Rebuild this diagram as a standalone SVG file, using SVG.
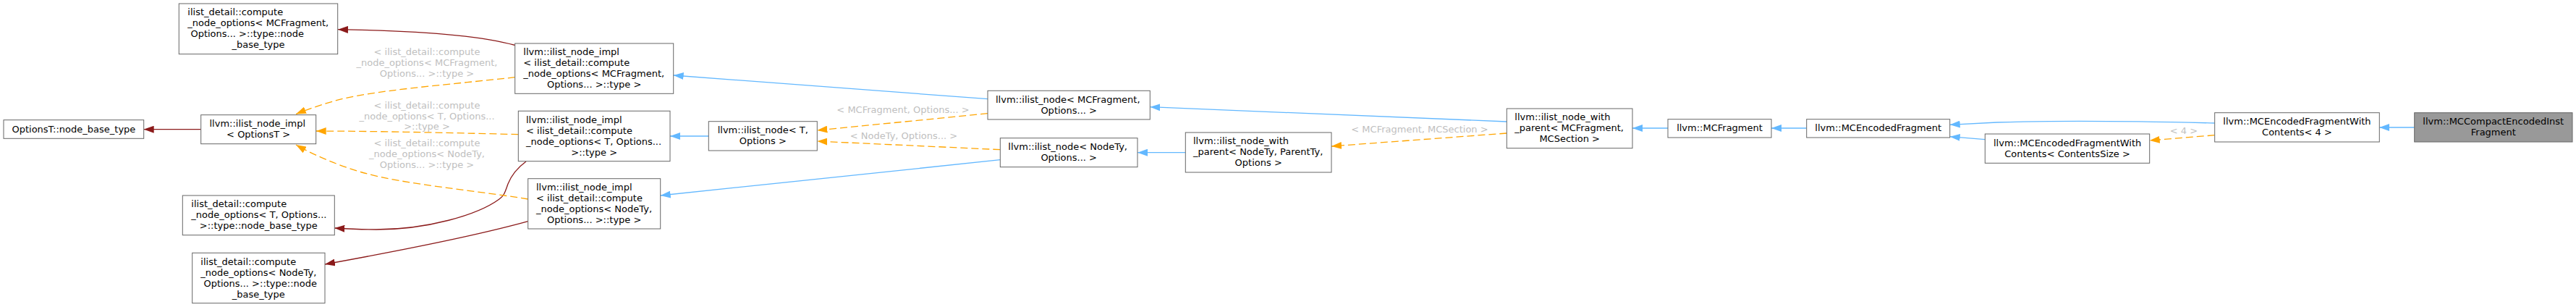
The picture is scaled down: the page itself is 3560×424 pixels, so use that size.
<svg xmlns="http://www.w3.org/2000/svg" width="3560" height="424" viewBox="0 0 3560 424">
<style>
.node rect{fill:#fff;stroke:#666;stroke-width:1}
.node.hl rect{fill:#999}
text{font-family:"DejaVu Sans","Liberation Sans",sans-serif;font-size:13px;fill:#000}
.m{text-anchor:middle}
.lbl{fill:#c0c0c0;text-anchor:middle}
.e{fill:none;stroke-width:1.3}
.blue{stroke:#63b8ff}
.orange{stroke:#ffa500;stroke-dasharray:10,5}
.red{stroke:#8b1a1a}
</style>
<defs>
<marker id="ab" viewBox="0 0 14 10" refX="14" refY="5" markerWidth="14" markerHeight="10" markerUnits="userSpaceOnUse" orient="auto"><path d="M0,0 L14,5 L0,10 z" fill="#63b8ff" stroke="none"/></marker>
<marker id="ao" viewBox="0 0 14 10" refX="14" refY="5" markerWidth="14" markerHeight="10" markerUnits="userSpaceOnUse" orient="auto"><path d="M0,0 L14,5 L0,10 z" fill="#ffa500" stroke="none"/></marker>
<marker id="ar" viewBox="0 0 14 10" refX="14" refY="5" markerWidth="14" markerHeight="10" markerUnits="userSpaceOnUse" orient="auto"><path d="M0,0 L14,5 L0,10 z" fill="#8b1a1a" stroke="none"/></marker>
</defs>
<rect width="3560" height="424" fill="#fff"/>
<g id="edges">
<path class="e red" d="M277.7,178.7 L198.7,178.7" marker-end="url(#ar)"/>
<path class="e red" d="M712,62.5 C660,48 560,42 467,40.7" marker-end="url(#ar)"/>
<path class="e red" d="M727,223 C712,234 706,244 702,254 C698,265 697,270 690,275 C660,297 590,317 520,317 C500,317 480,316 462.3,315" marker-end="url(#ar)"/>
<path class="e red" d="M729.7,305.7 C660,325 560,345 449,365" marker-end="url(#ar)"/>
<path class="e orange" d="M711.7,106.7 C620,117 510,125 460,140 C440,146 425,151 409,157.5" marker-end="url(#ao)"/>
<path class="e orange" d="M716.3,185.7 C650,184 520,181 436.7,181" marker-end="url(#ao)"/>
<path class="e orange" d="M729.7,275 C650,262 560,255 500,238 C460,226 430,212 409,200" marker-end="url(#ao)"/>
<path class="e blue" d="M979.3,188 L926,188" marker-end="url(#ab)"/>
<path class="e blue" d="M1365,136.7 L930.7,104" marker-end="url(#ab)"/>
<path class="e blue" d="M1382.3,220.7 L912.7,270" marker-end="url(#ab)"/>
<path class="e orange" d="M1365,156.7 L1129.3,180" marker-end="url(#ao)"/>
<path class="e orange" d="M1382.3,206.7 L1129.3,195" marker-end="url(#ao)"/>
<path class="e blue" d="M1638.3,210.7 L1572,210.7" marker-end="url(#ab)"/>
<path class="e blue" d="M2082.3,168 L1589.3,147.7" marker-end="url(#ab)"/>
<path class="e orange" d="M2082.3,184 L1840,202" marker-end="url(#ao)"/>
<path class="e blue" d="M2305,177 L2256,177" marker-end="url(#ab)"/>
<path class="e blue" d="M2496.7,177 L2448,177" marker-end="url(#ab)"/>
<path class="e blue" d="M3060.7,170 C2980,168 2850,166 2760,169 C2740,170 2720,171 2694.7,172.3" marker-end="url(#ab)"/>
<path class="e blue" d="M2743.3,192.7 L2694.7,188.7" marker-end="url(#ab)"/>
<path class="e orange" d="M3060.7,186.7 L2970.7,194" marker-end="url(#ao)"/>
<path class="e blue" d="M3336.7,176 L3288.3,176" marker-end="url(#ab)"/>
<text class="lbl" x="590" y="76">&lt; ilist_detail::compute</text>
<text class="lbl" x="590" y="91">_node_options&lt; MCFragment,</text>
<text class="lbl" x="590" y="106">Options... &gt;::type &gt;</text>
<text class="lbl" x="590" y="149.5">&lt; ilist_detail::compute</text>
<text class="lbl" x="590" y="164.5">_node_options&lt; T, Options...</text>
<text class="lbl" x="590" y="179">&gt;::type &gt;</text>
<text class="lbl" x="590" y="201.5">&lt; ilist_detail::compute</text>
<text class="lbl" x="590" y="216.5">_node_options&lt; NodeTy,</text>
<text class="lbl" x="590" y="231.5">Options... &gt;::type &gt;</text>
<text class="lbl" x="1248" y="156">&lt; MCFragment, Options... &gt;</text>
<text class="lbl" x="1249" y="192">&lt; NodeTy, Options... &gt;</text>
<text class="lbl" x="1962" y="183">&lt; MCFragment, MCSection &gt;</text>
<text class="lbl" x="3018" y="185">&lt; 4 &gt;</text>
</g>
<g id="n_optionsT" class="node"><rect x="5" y="165.7" width="193.7" height="25.6"/><text class="m" x="101.9" y="182.5">OptionsT::node_base_type</text></g>
<g id="n_impl_optionsT" class="node"><rect x="277.7" y="158.7" width="159" height="40"/><text x="289.5" y="175.2">llvm::ilist_node_impl</text><text class="m" x="357.2" y="190.2">&lt; OptionsT &gt;</text></g>
<g id="n_cmf_base" class="node"><rect x="247.3" y="5" width="219.4" height="69.7"/><text x="259.3" y="21.35">ilist_detail::compute</text><text x="259.3" y="36.35">_node_options&lt; MCFragment,</text><text x="259.3" y="51.35" xml:space="preserve"> Options... &gt;::type::node</text><text class="m" x="357" y="66.35">_base_type</text></g>
<g id="n_ct_base" class="node"><rect x="252.3" y="270" width="210" height="54.7"/><text x="264.3" y="286.35">ilist_detail::compute</text><text x="264.3" y="301.35">_node_options&lt; T, Options...</text><text class="m" x="357.3" y="316.35">&gt;::type::node_base_type</text></g>
<g id="n_cnt_base" class="node"><rect x="265.7" y="349.3" width="183.3" height="69.4"/><text x="277.3" y="365.5">ilist_detail::compute</text><text x="277.3" y="380.5">_node_options&lt; NodeTy,</text><text x="277.3" y="395.5" xml:space="preserve"> Options... &gt;::type::node</text><text class="m" x="357.3" y="410.5">_base_type</text></g>
<g id="n_impl_mcf" class="node"><rect x="711.7" y="60" width="219" height="69.3"/><text x="723.3" y="76.15">llvm::ilist_node_impl</text><text x="723.3" y="91.15">&lt; ilist_detail::compute</text><text x="723.3" y="106.15">_node_options&lt; MCFragment,</text><text class="m" x="821.2" y="121.15">Options... &gt;::type &gt;</text></g>
<g id="n_impl_t" class="node"><rect x="716.3" y="153.3" width="209.7" height="69.4"/><text x="727" y="169.5">llvm::ilist_node_impl</text><text x="727" y="184.5">&lt; ilist_detail::compute</text><text x="727" y="199.5">_node_options&lt; T, Options...</text><text class="m" x="821.2" y="214.5">&gt;::type &gt;</text></g>
<g id="n_impl_nt" class="node"><rect x="729.7" y="246.7" width="183" height="69.3"/><text x="741" y="262.85">llvm::ilist_node_impl</text><text x="741" y="277.85">&lt; ilist_detail::compute</text><text x="741" y="292.85">_node_options&lt; NodeTy,</text><text class="m" x="821.2" y="307.85">Options... &gt;::type &gt;</text></g>
<g id="n_node_t" class="node"><rect x="979.3" y="167.7" width="150" height="40.3"/><text x="991.7" y="184.35">llvm::ilist_node&lt; T,</text><text class="m" x="1054.3" y="199.35">Options &gt;</text></g>
<g id="n_node_mcf" class="node"><rect x="1365" y="125.3" width="224.3" height="39.7"/><text x="1376" y="141.65">llvm::ilist_node&lt; MCFragment,</text><text class="m" x="1477.2" y="156.65">Options... &gt;</text></g>
<g id="n_node_nt" class="node"><rect x="1382.3" y="190.7" width="189.7" height="40"/><text x="1393.3" y="207.2">llvm::ilist_node&lt; NodeTy,</text><text class="m" x="1477.2" y="222.2">Options... &gt;</text></g>
<g id="n_nwp_generic" class="node"><rect x="1638.3" y="183" width="201.7" height="55"/><text x="1649" y="199">llvm::ilist_node_with</text><text x="1649" y="214">_parent&lt; NodeTy, ParentTy,</text><text class="m" x="1739.2" y="229">Options &gt;</text></g>
<g id="n_nwp_mcf" class="node"><rect x="2082.3" y="150" width="173.7" height="54.7"/><text x="2093.3" y="166.35">llvm::ilist_node_with</text><text x="2093.3" y="181.35">_parent&lt; MCFragment,</text><text class="m" x="2169.2" y="196.35">MCSection &gt;</text></g>
<g id="n_mcfragment" class="node"><rect x="2305" y="164.7" width="143" height="25.3"/><text class="m" x="2376.5" y="181.35">llvm::MCFragment</text></g>
<g id="n_mcencoded" class="node"><rect x="2496.7" y="164.7" width="198" height="25.3"/><text class="m" x="2595.7" y="181.35">llvm::MCEncodedFragment</text></g>
<g id="n_mcefwc_cs" class="node"><rect x="2743.3" y="185" width="227.4" height="40.3"/><text x="2755" y="201.65">llvm::MCEncodedFragmentWith</text><text class="m" x="2857" y="216.65">Contents&lt; ContentsSize &gt;</text></g>
<g id="n_mcefwc_4" class="node"><rect x="3060.7" y="155.7" width="227.6" height="40.3"/><text x="3072.3" y="172.35">llvm::MCEncodedFragmentWith</text><text class="m" x="3174.5" y="187.35">Contents&lt; 4 &gt;</text></g>
<g id="n_compact" class="node hl"><rect x="3336.7" y="155.7" width="218.3" height="40.3"/><text x="3348.3" y="172.35">llvm::MCCompactEncodedInst</text><text class="m" x="3445.8" y="187.35">Fragment</text></g>
</svg>
